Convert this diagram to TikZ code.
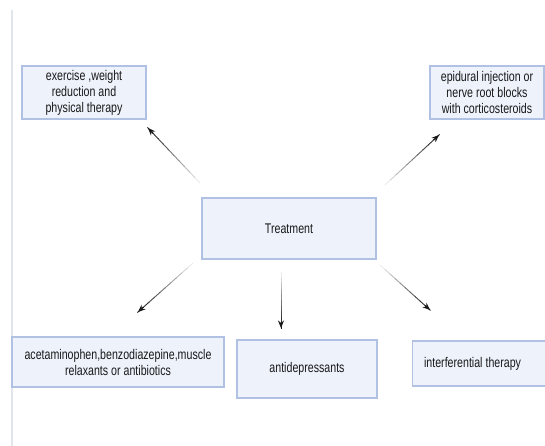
\documentclass[tikz,border=0pt]{standalone}
\usepackage{fontspec}
\setmainfont[FakeStretch=0.76]{Liberation Sans}
\usetikzlibrary{arrows.meta,calc}
\definecolor{boxfill}{HTML}{EDF2FB}
\definecolor{boxline}{HTML}{B0C1E3}
\definecolor{sideline}{HTML}{E2E5EC}
\tikzset{
  tbox/.style={draw=boxline, fill=boxfill, line width=1.1pt, align=center,
    font=\fontsize{14}{16}\selectfont, text=black!90, inner sep=2pt},
}
\newcommand{\fadearrow}[2]{%
  \foreach \i in {0,...,9}{%
    \pgfmathsetmacro{\sa}{\i/10}%
    \pgfmathsetmacro{\sb}{(\i+1)/10+0.01}%
    \pgfmathsetmacro{\cc}{8+\i*9.2}%
    \draw[line width=0.9pt, draw=black!\cc, line cap=butt] ($(#1)!\sa!(#2)$) -- ($(#1)!\sb!(#2)$);
  }%
  \draw[line width=0.9pt, draw=black!90, -{Stealth[length=7.5pt,width=6pt]}] ($(#1)!0.9!(#2)$) -- (#2);
}
\begin{document}
\begin{tikzpicture}[x=1pt,y=-1pt]
\useasboundingbox (0,0) rectangle (545,446);
\fill[white] (0,0) rectangle (545,446);
\draw[sideline, line width=1.5pt] (12,10) -- (12,446);

\node[tbox, minimum width=124pt, minimum height=53pt] (ex) at (84,92.5)
  {exercise ,weight\\reduction and\\physical therapy};
\node[tbox, minimum width=114pt, minimum height=53pt] (ep) at (487,92.5)
  {epidural injection or\\nerve root blocks\\with corticosteroids};
\node[tbox, minimum width=174pt, minimum height=61pt] (tr) at (289,228.5)
  {Treatment};
\node[tbox, minimum width=212pt, minimum height=50pt] (ac) at (118,362)
  {acetaminophen,benzodiazepine,muscle\\relaxants or antibiotics};
\node[tbox, minimum width=140pt, minimum height=58pt] (an) at (307,369)
  {antidepressants};
\node[tbox, minimum width=134pt, minimum height=45pt, anchor=west] (in) at (412,363.5)
  {interferential therapy\hspace*{14pt}};

\coordinate (s1) at (200,183);
\coordinate (e1) at (148,128);
\coordinate (s2) at (385,185);
\coordinate (e2) at (439,135);
\coordinate (s3) at (193,263);
\coordinate (e3) at (138,312);
\coordinate (s4) at (281,272);
\coordinate (e4) at (281,328);
\coordinate (s5) at (380,265);
\coordinate (e5) at (430,310);

\fadearrow{s1}{e1}
\fadearrow{s2}{e2}
\fadearrow{s3}{e3}
\fadearrow{s4}{e4}
\fadearrow{s5}{e5}
\end{tikzpicture}
\end{document}
